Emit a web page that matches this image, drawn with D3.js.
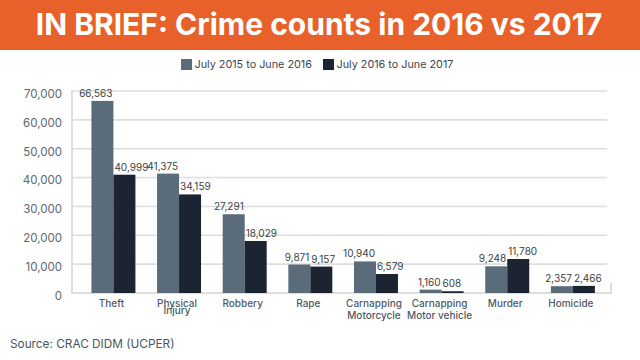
<!DOCTYPE html>
<html><head><meta charset="utf-8">
<script src="https://cdn.jsdelivr.net/npm/d3@7"></script>
<style>html,body{margin:0;padding:0;background:#fff;}svg{display:block;font-family:Inter,"Noto Sans",sans-serif;}</style>
</head><body>
<svg id="chart" width="640" height="360"></svg>
<script>
const title = "IN BRIEF: Crime counts in 2016 vs 2017";
const source = "Source: CRAC DIDM (UCPER)";
const categories = ["Theft","Physical Injury","Robbery","Rape","Carnapping Motorcycle","Carnapping Motor vehicle","Murder","Homicide"];
const categoryLines = [["Theft"],["Physical","Injury"],["Robbery"],["Rape"],["Carnapping","Motorcycle"],["Carnapping","Motor vehicle"],["Murder"],["Homicide"]];
const seriesNames = ["July 2015 to June 2016","July 2016 to June 2017"];
const series2016 = [66563,41375,27291,9871,10940,1160,9248,2357];
const series2017 = [40999,34159,18029,9157,6579,608,11780,2466];
const yTicks = [0,10000,20000,30000,40000,50000,60000,70000];
const colors = ["#5a6b7a","#1b2430"];

const svg = d3.select("#chart");
// header
svg.append("rect").attr("x",0).attr("y",0).attr("width",640).attr("height",50).attr("fill","#e8612b");
svg.append("text").attr("x",319).attr("y",34.5).attr("text-anchor","middle")
  .attr("fill","#fff").attr("font-size",30).attr("font-weight",700).text(title);

// legend
const legendItems = [{x:181,name:seriesNames[0],c:colors[0]},{x:323,name:seriesNames[1],c:colors[1]}];
const lg = svg.append("g");
legendItems.forEach(d=>{
  lg.append("rect").attr("x",d.x).attr("y",59).attr("width",11).attr("height",11).attr("fill",d.c);
  lg.append("text").attr("x",d.x+13.5).attr("y",68).attr("font-size",10.8).attr("fill","#3d4650").text(d.name);
});

const x = d3.scaleBand().domain(categories).range([80.6,605.7]).paddingInner(0.33).paddingOuter(0.165);
const xs = d3.scaleBand().domain([0,1]).range([0,x.bandwidth()]);
const y = d3.scaleLinear().domain([0,70000]).range([293,91]);

// grid
const grid = svg.append("g");
grid.selectAll("line").data(yTicks.filter(t=>t>0)).join("line")
  .attr("x1",72).attr("x2",607).attr("y1",d=>y(d)).attr("y2",d=>y(d))
  .attr("stroke","#dedede").attr("stroke-width",1.6);
// axis lines
svg.append("line").attr("x1",72).attr("x2",72).attr("y1",y(70000)-1).attr("y2",y(0)+1).attr("stroke","#dedede").attr("stroke-width",2);
svg.append("line").attr("x1",71).attr("x2",612).attr("y1",y(0)).attr("y2",y(0)).attr("stroke","#dedede").attr("stroke-width",2);
svg.append("line").attr("x1",611).attr("x2",611).attr("y1",y(0)-10).attr("y2",y(0)).attr("stroke","#dedede").attr("stroke-width",2);

// y axis labels
const yAxis = d3.axisLeft(y).tickValues(yTicks).tickSize(0).tickPadding(0).tickFormat(d3.format(","));
const ya = svg.append("g").attr("transform","translate(62,0)").call(yAxis);
ya.select(".domain").remove();
ya.selectAll("text").attr("font-size",11.5).attr("fill","#5d6670").attr("font-family","Inter").attr("dy","0.55em");

// bars
const data = categories.map((c,i)=>({c, v:[series2016[i],series2017[i]]}));
const groups = svg.append("g").selectAll("g").data(data).join("g").attr("transform",d=>`translate(${x(d.c)},0)`);
groups.selectAll("rect").data(d=>d.v.map((v,k)=>({v,k}))).join("rect")
  .attr("x",d=>xs(d.k)).attr("width",xs.bandwidth())
  .attr("y",d=>y(d.v)).attr("height",d=>y(0)-y(d.v)).attr("fill",d=>colors[d.k]);
groups.selectAll("text.val").data(d=>d.v.map((v,k)=>({v,k}))).join("text").attr("class","val")
  .attr("x",d=>d.k===0 ? xs(0)+xs.bandwidth()-1 : xs(1)+1)
  .attr("text-anchor",d=>d.k===0?"end":"start")
  .attr("y",d=>y(d.v)-4).attr("font-size",10).attr("fill","#3a3f45")
  .text(d=>d3.format(",")(d.v));

// x labels
const xl = svg.append("g").selectAll("text").data(categories).join("text")
  .attr("x",d=>x(d)+x.bandwidth()/2-2).attr("y",307).attr("text-anchor","middle")
  .attr("font-size",10).attr("font-weight",500).attr("fill","#4f5964");
xl.each(function(d,i){
  const t = d3.select(this);
  categoryLines[i].forEach((line,j)=>{
    t.append("tspan").attr("x",x(d)+x.bandwidth()/2-2).attr("dy",j===0?0:(i===1?7:12)).text(line);
  });
});

svg.append("text").attr("x",10).attr("y",348).attr("font-size",11.8).attr("fill","#4a5560").text(source);
</script>
</body></html>
